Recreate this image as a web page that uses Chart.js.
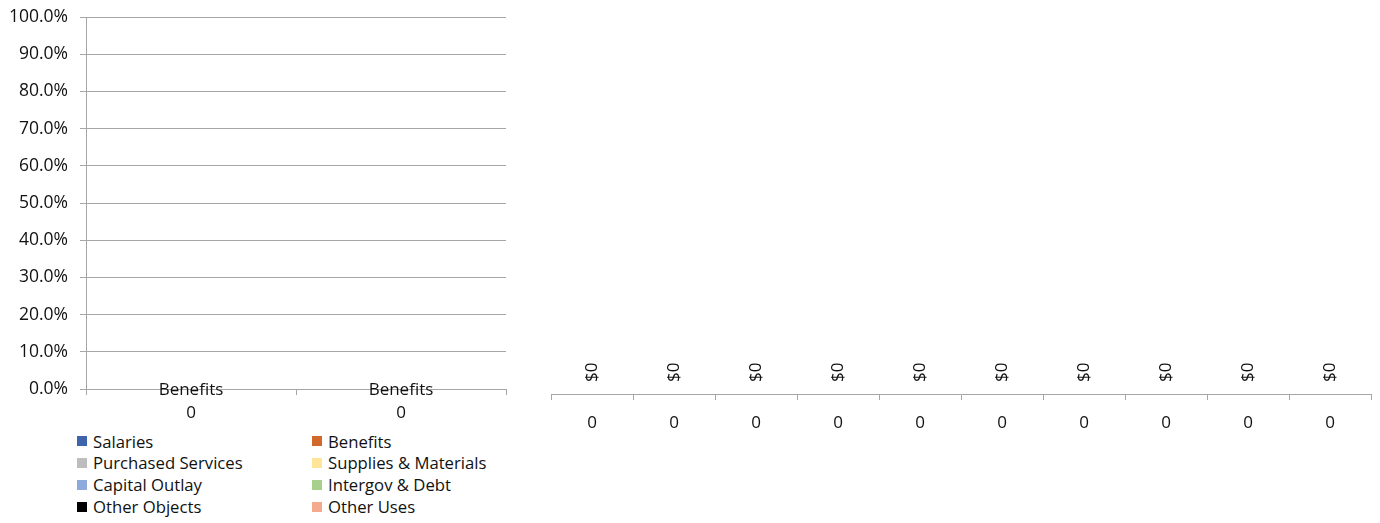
<!DOCTYPE html>
<html>
<head>
<meta charset="utf-8">
<script src="https://cdn.jsdelivr.net/npm/chart.js@4.4.1/dist/chart.umd.min.js"></script>
<style>
  html, body { margin: 0; padding: 0; background: #fff; }
  body { width: 1380px; height: 523px; position: relative; overflow: hidden; font-family: "Open Sans", sans-serif; }
  #mixBox { position: absolute; left: 0; top: 0; width: 520px; height: 430px; }
  #totalBox { position: absolute; left: 520px; top: 0; width: 860px; height: 523px; }
  #legend { position: absolute; left: 77px; top: 430.5px; width: 440px; display: grid; grid-template-columns: 235px 205px; row-gap: 0; }
  .item { display: flex; align-items: center; height: 21.8px; line-height: 21.8px; font-size: 16.7px; color: #111; white-space: nowrap; }
  .swatch { width: 10px; height: 10px; margin-right: 6px; flex: none; }
</style>
</head>
<body>
<div id="mixBox"><canvas id="mix"></canvas></div>
<div id="legend"></div>
<div id="totalBox"><canvas id="total"></canvas></div>
<script>
// Spending mix by object (share of total, per period)
const mixCategories = ['0', '0'];
const objectNames = ['Salaries', 'Benefits', 'Purchased Services', 'Supplies & Materials',
                     'Capital Outlay', 'Intergov & Debt', 'Other Objects', 'Other Uses'];
const objectColors = ['#3F64AE', '#D0692B', '#BDBDBD', '#FFE597',
                      '#8EA9DB', '#A8D08D', '#000000', '#F4AA8C'];
const salaries = [0, 0];
const benefits = [0, 0];
const purchasedServices = [0, 0];
const suppliesMaterials = [0, 0];
const capitalOutlay = [0, 0];
const intergovDebt = [0, 0];
const otherObjects = [0, 0];
const otherUses = [0, 0];
const percentTicks = [0, 0.1, 0.2, 0.3, 0.4, 0.5, 0.6, 0.7, 0.8, 0.9, 1.0];

// Total spending per period
const totalCategories = ['0', '0', '0', '0', '0', '0', '0', '0', '0', '0'];
const totalSpending = [0, 0, 0, 0, 0, 0, 0, 0, 0, 0];

const TEXT = '#111';
const LINE = '#A6A6A6';
const FONT = { family: '"Open Sans", sans-serif', size: 17 };

// Convert each series to its share of the category total (100% stacked)
const mixSeries = [salaries, benefits, purchasedServices, suppliesMaterials,
                   capitalOutlay, intergovDebt, otherObjects, otherUses];
const shares = mixSeries.map(series => series.map((v, i) => {
  const sum = mixSeries.reduce((s, arr) => s + arr[i], 0);
  return sum ? v / sum : 0;
}));

// Simple value-label plugin: draws labels from the datasets' own bar elements
const barLabels = {
  id: 'barLabels',
  afterDatasetsDraw(chart) {
    const ctx = chart.ctx;
    chart.data.datasets.forEach((ds, di) => {
      const cfg = ds.barLabel;
      if (!cfg) return;
      const meta = chart.getDatasetMeta(di);
      meta.data.forEach((bar, i) => {
        const text = cfg.text(ds, i);
        ctx.save();
        ctx.font = `${FONT.size}px ${FONT.family}`;
        ctx.fillStyle = TEXT;
        if (cfg.rotate) {
          ctx.translate(bar.x, bar.y - cfg.offset);
          ctx.rotate(-Math.PI / 2);
          ctx.textAlign = 'left';
          ctx.textBaseline = 'middle';
          ctx.fillText(text, 0, 0);
        } else {
          ctx.textAlign = 'center';
          ctx.textBaseline = 'middle';
          ctx.fillText(text, bar.x, (bar.y + bar.base) / 2 + 1);
        }
        ctx.restore();
      });
    });
  }
};

new Chart(document.getElementById('mix'), {
  type: 'bar',
  data: {
    labels: mixCategories,
    datasets: objectNames.map((name, k) => ({
      label: name,
      data: shares[k],
      backgroundColor: objectColors[k],
      borderWidth: 0,
      barPercentage: 0.6,
      categoryPercentage: 1,
      barLabel: name === 'Benefits' ? { text: ds => ds.label } : null
    }))
  },
  options: {
    responsive: true,
    maintainAspectRatio: false,
    animation: false,
    layout: { padding: { left: 0, right: 14, top: 17, bottom: 0 } },
    plugins: { legend: { display: false }, tooltip: { enabled: false } },
    scales: {
      x: {
        stacked: true,
        grid: { drawOnChartArea: false, drawTicks: true, tickLength: 6, color: LINE, offset: true },
        border: { display: true, color: LINE },
        ticks: { color: TEXT, font: FONT, padding: 8, maxRotation: 0 },
        afterFit(scale) { scale.height = 41; scale.paddingLeft = 0; scale.paddingRight = 0; }
      },
      y: {
        stacked: true,
        min: 0,
        max: 1,
        afterBuildTicks(scale) { scale.ticks = percentTicks.map(v => ({ value: v })); },
        grid: { color: LINE, tickLength: 6 },
        border: { display: true, color: LINE },
        ticks: { color: TEXT, font: { family: FONT.family, size: 17.5 }, padding: 12, callback: v => (v * 100).toFixed(1) + '%' },
        afterFit(scale) { scale.width = 86; scale.paddingTop = 0; scale.paddingBottom = 0; }
      }
    }
  },
  plugins: [barLabels]
});

// Legend in two columns, built from the series names and colours
const legend = document.getElementById('legend');
objectNames.forEach((name, k) => {
  const item = document.createElement('div');
  item.className = 'item';
  const sw = document.createElement('span');
  sw.className = 'swatch';
  sw.style.background = objectColors[k];
  const tx = document.createElement('span');
  tx.textContent = name;
  item.appendChild(sw);
  item.appendChild(tx);
  legend.appendChild(item);
});

new Chart(document.getElementById('total'), {
  type: 'bar',
  data: {
    labels: totalCategories,
    datasets: [{
      label: 'Total Spending',
      data: totalSpending,
      backgroundColor: '#3F64AE',
      borderWidth: 0,
      barPercentage: 0.6,
      categoryPercentage: 1,
      barLabel: { rotate: true, offset: 12, text: (ds, i) => '$' + ds.data[i].toLocaleString('en-US') }
    }]
  },
  options: {
    responsive: true,
    maintainAspectRatio: false,
    animation: false,
    layout: { padding: { left: 31, right: 9, top: 20, bottom: 0 } },
    plugins: { legend: { display: false }, tooltip: { enabled: false } },
    scales: {
      x: {
        grid: { drawOnChartArea: false, drawTicks: true, tickLength: 6, color: LINE, offset: true },
        border: { display: true, color: LINE },
        ticks: { color: TEXT, font: FONT, padding: 13, maxRotation: 0 },
        afterFit(scale) { scale.height = 129; scale.paddingLeft = 0; scale.paddingRight = 0; }
      },
      y: { display: false, min: 0, max: 1 }
    }
  },
  plugins: [barLabels]
});
</script>
</body>
</html>
